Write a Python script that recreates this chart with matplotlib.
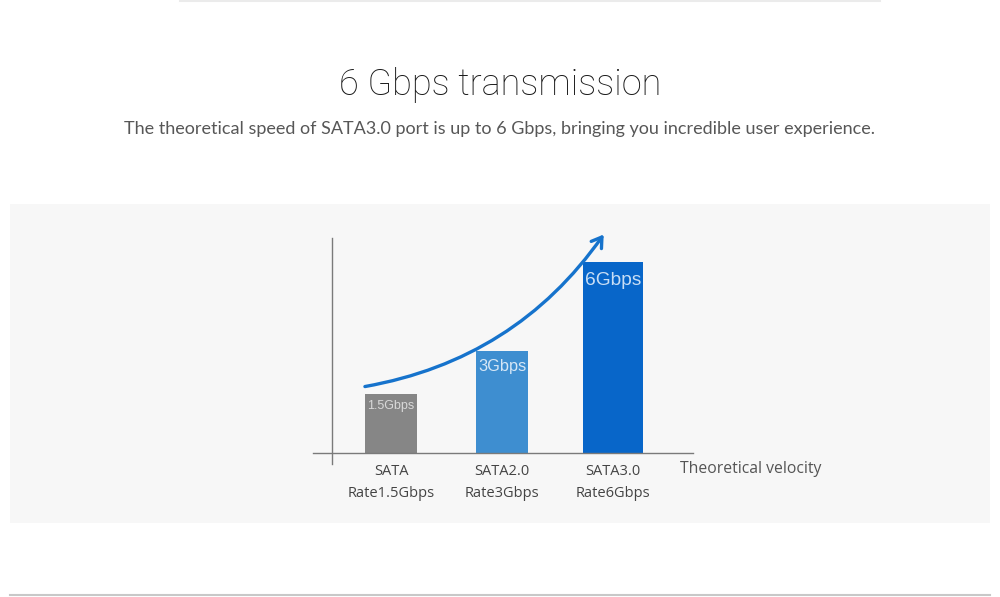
import matplotlib
matplotlib.use("Agg")
import matplotlib.pyplot as plt
from matplotlib.patches import Rectangle, FancyArrowPatch

# chart data
categories = ["SATA\nRate1.5Gbps", "SATA2.0\nRate3Gbps", "SATA3.0\nRate6Gbps"]
value_labels = ["1.5Gbps", "3Gbps", "6Gbps"]
bar_heights = [1.5, 2.6, 4.86]  # drawn heights (illustrative, not to scale)
bar_widths = [0.47, 0.47, 0.54]
bar_colors = ["#868686", "#3e8ed0", "#0866c9"]
label_colors = ["#d9d9d9", "#d6e7f6", "#c8def5"]
label_sizes = [9, 11.8, 13.8]

title = "6 Gbps transmission"
subtitle = ("The theoretical speed of SATA3.0 port is up to 6 Gbps, "
            "bringing you incredible user experience.")
axis_name = "Theoretical velocity"

fig = plt.figure(figsize=(10, 5.97), dpi=100)
fig.patch.set_facecolor("white")

# light grey panel behind the chart
panel = Rectangle((0.010, 1 - 523 / 597), 0.980, 319 / 597,
                  transform=fig.transFigure, facecolor="#f7f7f7",
                  edgecolor="none", zorder=-5)
fig.add_artist(panel)
# faint separator lines at top and bottom of the page
fig.add_artist(plt.Line2D([0.18, 0.88], [0.998, 0.998], color="#ebebeb", lw=1.5))
fig.add_artist(plt.Line2D([0.01, 0.99], [0.004, 0.004], color="#c8c8c8", lw=1.5))

fig.text(0.5, 1 - 85 / 597, title, ha="center", va="center", fontsize=26,
         family="Roboto", weight="light", color="#1a1a1a")
fig.text(0.5, 1 - 129 / 597, subtitle, ha="center", va="center", fontsize=13,
         family="Lato", color="#575757")

ax = fig.add_axes([0.3078, 0.2214, 0.3885, 0.3883], zorder=2)
ax.set_facecolor("none")
ax.set_xlim(-0.75, 2.75)
ax.set_ylim(-0.3, 5.6)

x = list(range(len(categories)))
ax.bar(x, bar_heights, width=bar_widths, color=bar_colors, zorder=2)

for xi, h, lab, c, s in zip(x, bar_heights, value_labels, label_colors, label_sizes):
    ax.annotate(lab, (xi, h), xytext=(0, -0.95 * s), textcoords="offset points",
                ha="center", va="center", fontsize=s, color=c,
                family="Liberation Sans", zorder=3)

for xi, cat in zip(x, categories):
    ax.annotate(cat, (xi, 0), xytext=(0, -8), textcoords="offset points",
                ha="center", va="top", fontsize=10.5, color="#444444",
                family="Open Sans", linespacing=1.6)

ax.annotate(axis_name, (2.72, 0), xytext=(-9, -5.5), textcoords="offset points",
            ha="left", va="top", fontsize=11.3, color="#555555", family="Open Sans",
            annotation_clip=False)

# axis lines
for side in ["top", "right"]:
    ax.spines[side].set_visible(False)
ax.spines["left"].set_position(("data", -0.53))
ax.spines["left"].set_bounds(-0.28, 5.47)
ax.spines["bottom"].set_position(("data", 0))
ax.spines["bottom"].set_bounds(-0.7, 2.72)
for side in ["left", "bottom"]:
    ax.spines[side].set_color("#7a7a7a")
    ax.spines[side].set_linewidth(1)
ax.set_xticks([])
ax.set_yticks([])

# growth arrow above the bars
start = (x[0] - 0.26, bar_heights[0] + 0.18)
end = (x[2] - 0.07, bar_heights[2] + 0.76)
arrow = FancyArrowPatch(start, end, connectionstyle="arc3,rad=0.21",
                        arrowstyle="->,head_length=7,head_width=4.5",
                        color="#1673cc", lw=2.4, zorder=4, clip_on=False)
ax.add_patch(arrow)

fig.savefig("out.png", dpi=100, facecolor="white")
